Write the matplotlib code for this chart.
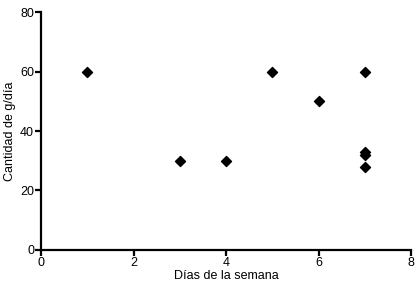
import matplotlib
matplotlib.use('Agg')
from matplotlib import pyplot as plt

plt.rcParams['font.family'] = ['Liberation Sans', 'DejaVu Sans']

# data
dias = [1, 3, 4, 5, 6, 7, 7, 7, 7]
gramos = [60, 30, 30, 60, 50, 60, 33, 32, 28]
xticks = [0, 2, 4, 6, 8]
yticks = [0, 20, 40, 60, 80]

fig = plt.figure(figsize=(4.19, 2.87), dpi=100)
ax = fig.add_axes([0.098, 0.129, 0.883, 0.829])

ax.scatter(dias, gramos, marker='D', s=26, color='black', zorder=3, clip_on=False)

ax.set_xlim(0, 8)
ax.set_ylim(0, 80)
ax.set_xticks(xticks)
ax.set_yticks(yticks)
ax.spines['top'].set_visible(False)
ax.spines['right'].set_visible(False)
for s in ('left', 'bottom'):
    ax.spines[s].set_linewidth(1.6)
ax.tick_params(direction='out', length=4, width=1.6, labelsize=9, pad=1)
ax.set_xlabel('Días de la semana', fontsize=9, labelpad=1)
ax.set_ylabel('Cantidad de g/día', fontsize=9, labelpad=3)

fig.savefig('out.png', dpi=100)
